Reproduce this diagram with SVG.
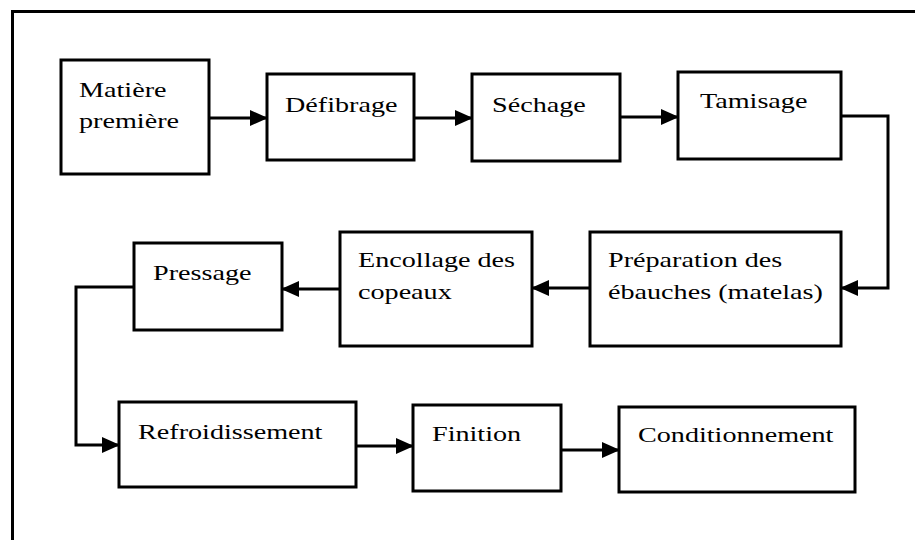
<svg xmlns="http://www.w3.org/2000/svg" width="915" height="540" viewBox="0 0 915 540">
<style>
.box{fill:#fff;stroke:#000;stroke-width:3}
.lbl{font-family:'Liberation Serif', 'Times New Roman', serif;font-size:22px;font-weight:normal;fill:#000}
.con{fill:none;stroke:#000;stroke-width:3}
.frame{fill:none;stroke:#000;stroke-width:3}
</style>
<defs>
<marker id="ah" markerUnits="userSpaceOnUse" markerWidth="18" markerHeight="18" viewBox="0 0 18 18" refX="17" refY="9" orient="auto">
<path d="M0,1 L18,9 L0,17 z" fill="#000"/>
</marker>
</defs>
<rect width="915" height="540" fill="#fff"/>
<path class="frame" d="M12.5,540 V11.5 H915"/>
<g id="connectors">
<path class="con" d="M209,118 H267" marker-end="url(#ah)"/>
<path class="con" d="M414,118 H472" marker-end="url(#ah)"/>
<path class="con" d="M620,117 H678" marker-end="url(#ah)"/>
<path class="con" d="M841,116 H888 V288 H841" marker-end="url(#ah)"/>
<path class="con" d="M590,288 H532" marker-end="url(#ah)"/>
<path class="con" d="M340,289 H282" marker-end="url(#ah)"/>
<path class="con" d="M134,287 H76 V445 H119" marker-end="url(#ah)"/>
<path class="con" d="M356,446 H413" marker-end="url(#ah)"/>
<path class="con" d="M561,450 H619" marker-end="url(#ah)"/>
</g>
<g id="matiere">
<rect class="box" x="61" y="60" width="148" height="114"/>
<text class="lbl" transform="translate(79 97) scale(1.28 1)">Matière</text>
<text class="lbl" transform="translate(79 128) scale(1.28 1)">première</text>
</g>
<g id="defibrage">
<rect class="box" x="267" y="74" width="147" height="86"/>
<text class="lbl" transform="translate(285 112) scale(1.28 1)">Défibrage</text>
</g>
<g id="sechage">
<rect class="box" x="472" y="74" width="148" height="87"/>
<text class="lbl" transform="translate(492 112) scale(1.28 1)">Séchage</text>
</g>
<g id="tamisage">
<rect class="box" x="678" y="72" width="163" height="87"/>
<text class="lbl" transform="translate(700 108) scale(1.28 1)">Tamisage</text>
</g>
<g id="preparation">
<rect class="box" x="590" y="232" width="251" height="114"/>
<text class="lbl" transform="translate(608 267) scale(1.28 1)">Préparation des</text>
<text class="lbl" transform="translate(608 299) scale(1.28 1)">ébauches (matelas)</text>
</g>
<g id="encollage">
<rect class="box" x="340" y="232" width="192" height="114"/>
<text class="lbl" transform="translate(358 267) scale(1.28 1)">Encollage des</text>
<text class="lbl" transform="translate(358 299) scale(1.28 1)">copeaux</text>
</g>
<g id="pressage">
<rect class="box" x="134" y="243" width="148" height="87"/>
<text class="lbl" transform="translate(153 280) scale(1.28 1)">Pressage</text>
</g>
<g id="refroidissement">
<rect class="box" x="119" y="402" width="237" height="85"/>
<text class="lbl" transform="translate(138 439) scale(1.28 1)">Refroidissement</text>
</g>
<g id="finition">
<rect class="box" x="413" y="405" width="148" height="86"/>
<text class="lbl" transform="translate(432 441) scale(1.28 1)">Finition</text>
</g>
<g id="conditionnement">
<rect class="box" x="619" y="407" width="236" height="85"/>
<text class="lbl" transform="translate(638 442) scale(1.28 1)">Conditionnement</text>
</g>
</svg>
